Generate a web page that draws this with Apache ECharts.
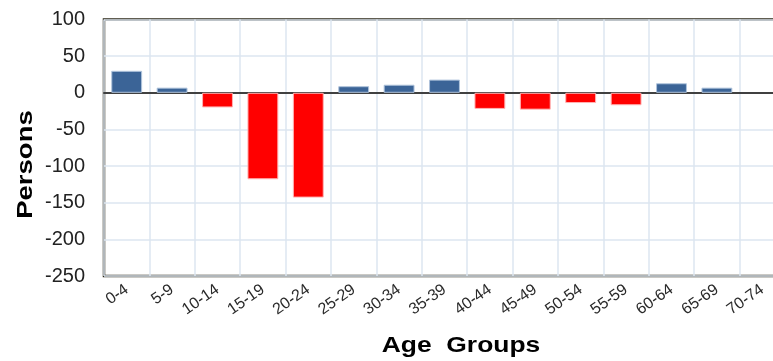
<!DOCTYPE html>
<html>
<head>
<meta charset="utf-8">
<script src="https://cdn.jsdelivr.net/npm/echarts@6/dist/echarts.min.js"></script>
<style>html,body{margin:0;padding:0;background:#fff;}#c{width:773px;height:361px;}</style>
</head>
<body>
<div id="c"></div>
<script>
var categories = ['0-4','5-9','10-14','15-19','20-24','25-29','30-34','35-39','40-44','45-49','50-54','55-59','60-64','65-69','70-74'];
var persons = [30, 7, -20, -118, -143, 9, 11, 18, -22, -23, -14, -17, 13, 7, 0];
var yTicks = {min: -250, max: 100, interval: 50};

var chart = echarts.init(document.getElementById('c'), null, {renderer: 'canvas'});
var font = '"Liberation Sans", Arial, sans-serif';
chart.setOption({
  animation: false,
  grid: {left: 104, top: 19.5, right: -12, height: 256.5, show: true, borderColor: '#2e2a1a', borderWidth: 2.5, backgroundColor: 'transparent', containLabel: false, outerBoundsMode: 'none'},
  xAxis: {
    type: 'category', data: categories,
    axisLine: {show: true, onZero: true, lineStyle: {color: '#404040', width: 2}},
    axisTick: {show: false},
    splitLine: {show: true, lineStyle: {color: '#dce6f1', width: 1.5}},
    axisLabel: {rotate: 35, fontSize: 16, color: '#2a2a2a', fontFamily: font, margin: 12, interval: 0}
  },
  yAxis: {
    type: 'value', min: yTicks.min, max: yTicks.max, interval: yTicks.interval,
    axisLine: {show: false}, axisTick: {show: false},
    splitLine: {show: true, lineStyle: {color: '#dce6f1', width: 1.5}},
    axisLabel: {fontSize: 20, color: '#222', fontFamily: font, margin: 19}
  },
  graphic: [
    {type: 'text', x: 26, y: 164.5, rotation: Math.PI / 2, scaleX: 1.25, style: {text: 'Persons', font: 'bold 22px ' + font, fill: '#000', textAlign: 'center', textVerticalAlign: 'middle'}},
    {type: 'text', x: 461, y: 346, scaleX: 1.2, style: {text: 'Age  Groups', font: 'bold 22px ' + font, fill: '#000', textAlign: 'center', textVerticalAlign: 'middle'}}
  ],
  series: [{
    type: 'bar', barCategoryGap: '32%',
    data: persons.map(function (v) {
      var st = v < 0 ? {color: '#ff0000', borderColor: '#ffb3b3', borderWidth: 1} : {color: '#3b6497', borderColor: '#b0c4dc', borderWidth: 1};
      if (v === 0) { st.borderWidth = 0; }
      return {value: v, itemStyle: st};
    })
  }]
});
</script>
</body>
</html>
